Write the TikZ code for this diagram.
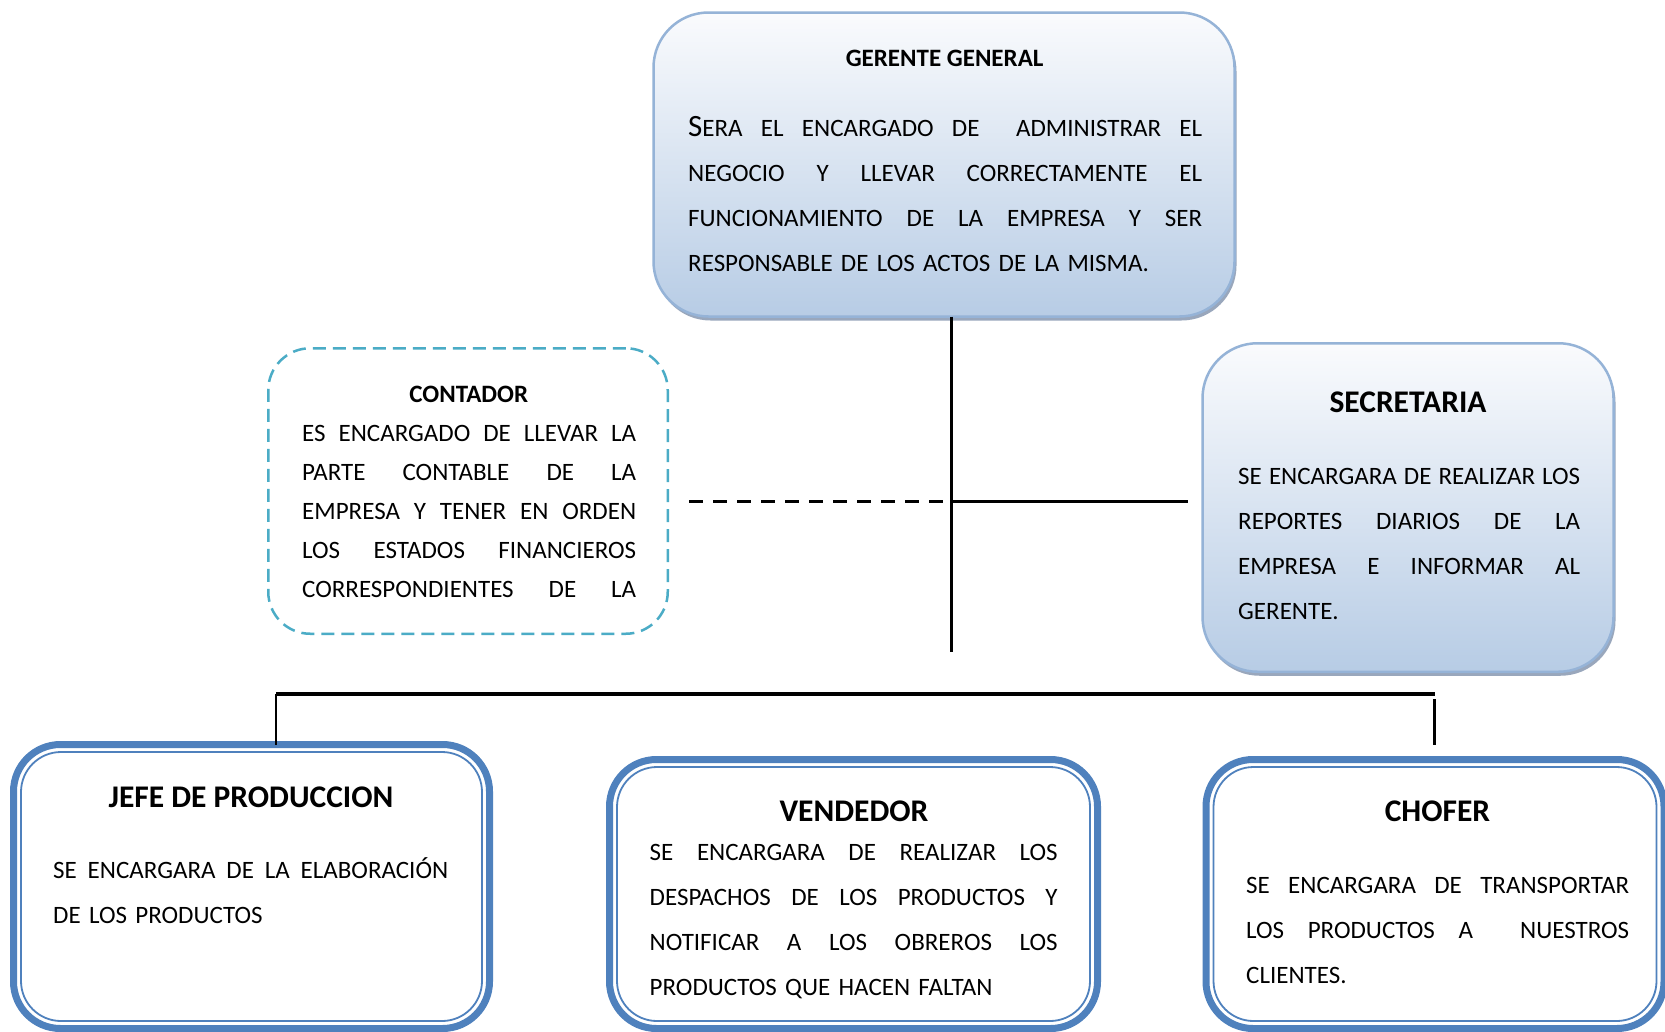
\documentclass[tikz,border=0pt]{standalone}
\usepackage{fontspec}
\setmainfont{Carlito}
\usetikzlibrary{shadows}
\definecolor{gradtop}{RGB}{250,251,253}
\definecolor{gradbot}{RGB}{183,204,229}
\definecolor{gradline}{RGB}{149,179,215}
\definecolor{shadowc}{RGB}{110,130,160}
\definecolor{dashc}{RGB}{75,172,198}
\definecolor{accent}{RGB}{79,129,189}
\newcommand\justline[2]{\leavevmode\hbox to #1{#2}}
\newcommand\gap{\hfill}
\begin{document}
\begin{tikzpicture}[x=1pt,y=-1pt,
  gradbox/.style={draw=gradline, line width=2.5pt, rounded corners=55pt, top color=gradtop, bottom color=gradbot,
    drop shadow={shadow xshift=2pt, shadow yshift=-4pt, fill=shadowc, opacity=0.7}, inner sep=0pt, outer sep=0pt},
  dashbox/.style={draw=dashc, line width=2.5pt, dash pattern=on 13pt off 7pt, rounded corners=42pt, inner sep=0pt, outer sep=0pt},
  dblbox/.style={draw=accent, line width=7pt, rounded corners=47pt, fill=white, inner sep=0pt, outer sep=0pt},
  innerline/.style={draw=accent, line width=1.8pt, rounded corners=40pt},
  bigtitle/.style={font=\fontsize{31.5}{36}\selectfont\bfseries, inner sep=0pt, anchor=base},
  smalltitle/.style={font=\fontsize{25}{30}\selectfont\bfseries, inner sep=0pt, anchor=base},
  body/.style={font=\fontsize{25}{45}\selectfont, inner sep=0pt, anchor=base west, align=left},
  conn/.style={line width=3pt, black},
]
\useasboundingbox (0,0) rectangle (1665,1031);
\clip (0,0) rectangle (1665,1031);
\fill[white] (0,0) rectangle (1665,1031);

% boxes
\node[gradbox, minimum width=581pt, minimum height=304pt] (g) at (944,164.5) {};
\node[gradbox, minimum width=411pt, minimum height=328.5pt] (s) at (1408,507.5) {};
\node[dashbox, minimum width=399.5pt, minimum height=285.5pt] (c) at (468,491) {};
\node[dblbox, minimum width=476pt, minimum height=284pt] (j) at (251.5,886.5) {};
\node[dblbox, minimum width=488pt, minimum height=269pt] (v) at (853.5,894) {};
\node[dblbox, minimum width=458pt, minimum height=269pt] (ch) at (1435,894) {};
\foreach \b in {j,v,ch}{
  \draw[innerline] ([shift={(7.5,7.5)}]\b.north west) rectangle ([shift={(-7.5,-7.5)}]\b.south east);
}

% titles
\node[smalltitle] (gt) at (944.6,66) {GERENTE GENERAL};
\node[smalltitle] (ctt) at (468.8,402) {CONTADOR};
\node[bigtitle] (stt) at (1408,412) {SECRETARIA};
\node[bigtitle] (jt) at (251,807) {JEFE DE PRODUCCION};
\node[bigtitle] (vt) at (854,821) {VENDEDOR};
\node[bigtitle] (cht) at (1437.5,821) {CHOFER};

% bodies
\node[body, text width=514pt] (gb) at (688,136.7) {\justline{514pt}{{\fontsize{31}{45}\selectfont S}ERA\gap EL\gap ENCARGADO\gap DE\gap\gap ADMINISTRAR\gap EL}\\
\justline{514pt}{NEGOCIO\gap Y\gap LLEVAR\gap CORRECTAMENTE\gap EL}\\
\justline{514pt}{FUNCIONAMIENTO\gap DE\gap LA\gap EMPRESA\gap Y\gap SER}\\
RESPONSABLE\hspace{8pt}DE LOS ACTOS DE\hspace{8pt}LA MISMA.};

\node[body, font=\fontsize{25}{39}\selectfont, text width=334pt] (cb) at (302,441) {\justline{334pt}{ES\gap ENCARGADO\gap DE\gap LLEVAR\gap LA}\\
\justline{334pt}{PARTE\gap CONTABLE\gap DE\gap LA}\\
\justline{334pt}{EMPRESA\gap Y\gap TENER\gap EN\gap ORDEN}\\
\justline{334pt}{LOS\gap ESTADOS\gap FINANCIEROS}\\
\justline{334pt}{CORRESPONDIENTES\gap DE\gap LA}};

\node[body, text width=342pt] (sb) at (1238,484) {\justline{342pt}{SE\gap ENCARGARA\gap DE\gap REALIZAR\gap LOS}\\
\justline{342pt}{REPORTES\gap DIARIOS\gap DE\gap LA}\\
\justline{342pt}{EMPRESA\gap E\gap INFORMAR\gap AL}\\
GERENTE.};

\node[body, text width=395pt] (jb) at (53,878) {\justline{395pt}{SE\gap ENCARGARA\gap DE\gap LA\gap ELABORACIÓN}\\
DE LOS PRODUCTOS};

\node[body, text width=408pt] (vb) at (649.5,860) {\justline{408pt}{SE\gap ENCARGARA\gap DE\gap REALIZAR\gap LOS}\\
\justline{408pt}{DESPACHOS\gap DE\gap LOS\gap PRODUCTOS\gap Y}\\
\justline{408pt}{NOTIFICAR\gap A\gap LOS\gap OBREROS\gap LOS}\\
PRODUCTOS QUE HACEN FALTAN};

\node[body, text width=383pt] (chb) at (1246,893) {\justline{383pt}{SE\gap ENCARGARA\gap DE\gap TRANSPORTAR}\\
\justline{383pt}{LOS\gap PRODUCTOS\gap A\gap\gap NUESTROS}\\
CLIENTES.};

% connectors
\coordinate (jn) at (951,501);
\coordinate (vbot) at (951,652);
\coordinate (dl) at (689,501);
\coordinate (sl) at (1188,501);
\coordinate (bl) at (276,694);
\coordinate (br) at (1435,694);
\coordinate (rt) at (1434,699);
\coordinate (rb) at (1434,745);
\draw[conn] (g.south -| jn) -- (vbot);
\draw[conn, dash pattern=on 14pt off 10pt] (dl) -- (jn);
\draw[conn] (jn) -- (sl);
\draw[conn, line width=3.5pt] (bl) -- (br);
\draw[line width=2.5pt] (bl) -- (bl |- j.north);
\draw[conn] (rt) -- (rb);
\end{tikzpicture}
\end{document}
